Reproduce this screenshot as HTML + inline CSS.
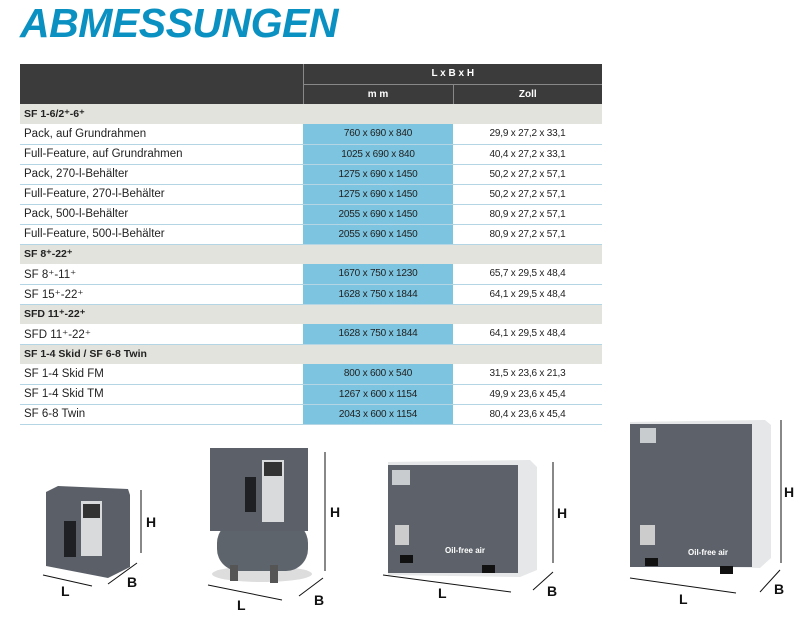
<!DOCTYPE html>
<html><head><meta charset="utf-8"><style>
*{margin:0;padding:0;box-sizing:border-box}
body{width:803px;height:618px;background:#fff;position:relative;overflow:hidden;font-family:"Liberation Sans",sans-serif}
h1{position:absolute;left:20px;top:0px;font-size:41px;font-weight:bold;font-style:italic;color:#0b90c2;letter-spacing:-0.5px;line-height:46px}
table{position:absolute;left:20px;top:64px;border-collapse:collapse;width:582px;font-size:11.5px;color:#222}
td{height:20px;padding:0 4px;border-bottom:1px solid #b4d6e4;white-space:nowrap}
td.m{background:#7cc4df;text-align:center;font-size:10px;width:150px;letter-spacing:-0.2px}
td.z{text-align:center;font-size:10px;width:149px;letter-spacing:-0.2px}
tr.h td{background:#3b3b3b;color:#fff;font-weight:bold;font-size:10px;text-align:center;border-bottom:none}
tr.s td{background:#e3e3de;font-weight:bold;font-size:10.5px;border-bottom:none}
</style></head><body>
<h1>ABMESSUNGEN</h1>
<table>
<tr class="h"><td rowspan="2" style="border-right:1px solid #888"></td><td colspan="2" style="border-bottom:1px solid #888;height:20px">L x B x H</td></tr>
<tr class="h"><td style="border-right:1px solid #888">m m</td><td>Zoll</td></tr>
<tr class="s"><td>SF 1-6/2⁺-6⁺</td><td></td><td></td></tr>
<tr><td>Pack, auf Grundrahmen</td><td class="m">760 x 690 x 840</td><td class="z">29,9 x 27,2 x 33,1</td></tr>
<tr><td>Full-Feature, auf Grundrahmen</td><td class="m">1025 x 690 x 840</td><td class="z">40,4 x 27,2 x 33,1</td></tr>
<tr><td>Pack, 270-l-Behälter</td><td class="m">1275 x 690 x 1450</td><td class="z">50,2 x 27,2 x 57,1</td></tr>
<tr><td>Full-Feature, 270-l-Behälter</td><td class="m">1275 x 690 x 1450</td><td class="z">50,2 x 27,2 x 57,1</td></tr>
<tr><td>Pack, 500-l-Behälter</td><td class="m">2055 x 690 x 1450</td><td class="z">80,9 x 27,2 x 57,1</td></tr>
<tr><td>Full-Feature, 500-l-Behälter</td><td class="m">2055 x 690 x 1450</td><td class="z">80,9 x 27,2 x 57,1</td></tr>
<tr class="s"><td>SF 8⁺-22⁺</td><td></td><td></td></tr>
<tr><td>SF 8⁺-11⁺</td><td class="m">1670 x 750 x 1230</td><td class="z">65,7 x 29,5 x 48,4</td></tr>
<tr><td>SF 15⁺-22⁺</td><td class="m">1628 x 750 x 1844</td><td class="z">64,1 x 29,5 x 48,4</td></tr>
<tr class="s"><td>SFD 11⁺-22⁺</td><td></td><td></td></tr>
<tr><td>SFD 11⁺-22⁺</td><td class="m">1628 x 750 x 1844</td><td class="z">64,1 x 29,5 x 48,4</td></tr>
<tr class="s"><td>SF 1-4 Skid / SF 6-8 Twin</td><td></td><td></td></tr>
<tr><td>SF 1-4 Skid FM</td><td class="m">800 x 600 x 540</td><td class="z">31,5 x 23,6 x 21,3</td></tr>
<tr><td>SF 1-4 Skid TM</td><td class="m">1267 x 600 x 1154</td><td class="z">49,9 x 23,6 x 45,4</td></tr>
<tr><td>SF 6-8 Twin</td><td class="m">2043 x 600 x 1154</td><td class="z">80,4 x 23,6 x 45,4</td></tr>
</table>
<svg width="803" height="618" style="position:absolute;left:0;top:0" font-family="Liberation Sans" font-weight="bold" font-size="14" fill="#111">
<!-- machine 1 -->
<polygon points="46,492 58,486 128,489 130,495 130,567 108,578 46,566" fill="#5b6068"/>
<rect x="81" y="501" width="21" height="55" fill="#d8dadb"/>
<rect x="83" y="504" width="17" height="14" fill="#333"/>
<rect x="64" y="521" width="12" height="36" fill="#1e2024"/>
<!-- machine 2 -->
<ellipse cx="262" cy="574" rx="50" ry="8" fill="#ddd"/>
<rect x="217" y="521" width="91" height="50" rx="22" fill="#5e646c"/>
<rect x="230" y="565" width="8" height="16" fill="#555"/><rect x="270" y="565" width="8" height="18" fill="#555"/>
<rect x="210" y="448" width="98" height="83" fill="#5c6169"/>
<rect x="262" y="460" width="22" height="62" fill="#d8dadb"/>
<rect x="264" y="462" width="18" height="14" fill="#333"/>
<rect x="245" y="477" width="11" height="35" fill="#1e2024"/>
<!-- machine 3 -->
<polygon points="388,462 530,460 537,467 537,570 520,577 388,575" fill="#e6e7e8"/>
<rect x="388" y="465" width="130" height="108" fill="#5d626a"/>
<rect x="392" y="470" width="18" height="15" fill="#c9ccce"/>
<rect x="395" y="525" width="14" height="20" fill="#ccc"/>
<rect x="400" y="555" width="13" height="8" fill="#111"/><rect x="482" y="565" width="13" height="8" fill="#111"/>
<text x="445" y="553" font-size="8" fill="#fff">Oil-free air</text>
<!-- machine 4 -->
<polygon points="630,422 765,420 771,425 771,558 760,568 630,565" fill="#e6e7e8"/>
<rect x="630" y="424" width="122" height="143" fill="#5d626a"/>
<rect x="640" y="428" width="16" height="15" fill="#c9ccce"/>
<rect x="640" y="525" width="15" height="20" fill="#ccc"/>
<rect x="645" y="558" width="13" height="8" fill="#111"/><rect x="720" y="566" width="13" height="8" fill="#111"/>
<text x="688" y="555" font-size="8" fill="#fff">Oil-free air</text>
<!-- dimension lines -->
<g stroke="#111" stroke-width="1">
<line x1="141" y1="490" x2="141" y2="553"/><line x1="43" y1="575" x2="92" y2="586"/><line x1="108" y1="584" x2="137" y2="563"/>
<line x1="325" y1="452" x2="325" y2="571"/><line x1="208" y1="585" x2="282" y2="600"/><line x1="299" y1="596" x2="323" y2="578"/>
<line x1="553" y1="462" x2="553" y2="563"/><line x1="383" y1="575" x2="511" y2="592"/><line x1="533" y1="590" x2="553" y2="572"/>
<line x1="781" y1="420" x2="781" y2="563"/><line x1="630" y1="578" x2="736" y2="593"/><line x1="760" y1="592" x2="780" y2="570"/>
</g>
<text x="146" y="527">H</text><text x="61" y="596">L</text><text x="127" y="587">B</text>
<text x="330" y="517">H</text><text x="237" y="610">L</text><text x="314" y="605">B</text>
<text x="557" y="518">H</text><text x="438" y="598">L</text><text x="547" y="596">B</text>
<text x="784" y="497">H</text><text x="679" y="604">L</text><text x="774" y="594">B</text>
</svg>
</body></html>
